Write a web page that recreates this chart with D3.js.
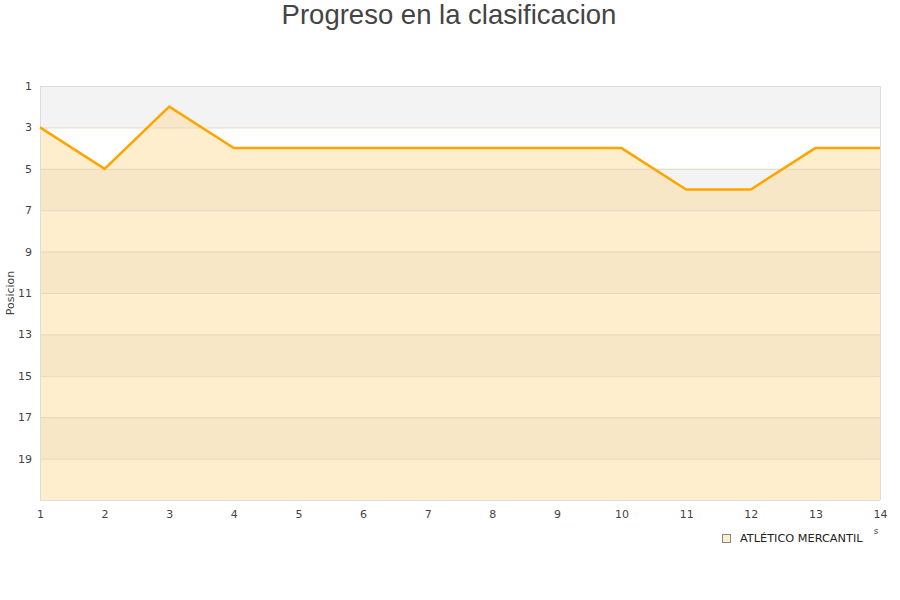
<!DOCTYPE html>
<html><head><meta charset="utf-8">
<script src="https://cdn.jsdelivr.net/npm/d3@7"></script>
<style>body{margin:0;background:#fff}svg{display:block}</style>
</head><body>
<svg id="c" width="900" height="600"></svg>
<script>
const rounds = [1,2,3,4,5,6,7,8,9,10,11,12,13,14];
const positions = [3,5,2,4,4,4,4,4,4,4,6,6,4,4];
const yTicks = [1,3,5,7,9,11,13,15,17,19];
const teamName = "ATLÉTICO MERCANTIL";
const title = "Progreso en la clasificacion";
const yLabel = "Posicion";

const svg = d3.select("#c");
const m = {l:40, r:880, t:86, b:500};
const x = d3.scaleLinear().domain([1,14]).range([m.l, m.r]);
const y = d3.scaleLinear().domain([1,21]).range([m.t, m.b]);

// bands
const bands = d3.range(1,21,2);
svg.selectAll("rect.band").data(bands).enter().append("rect")
  .attr("x", m.l).attr("width", m.r-m.l)
  .attr("y", d=>y(d)).attr("height", d=>y(d+2)-y(d))
  .attr("fill", (d,i)=> i%2===0 ? "#f3f3f3" : "#ffffff");

// area
const area = d3.area().x((d,i)=>x(rounds[i])).y0(y(21)).y1(d=>y(d));
svg.append("path").datum(positions).attr("d", area)
  .attr("fill", "#ffd78a").attr("fill-opacity", 0.42);

// grid lines
svg.selectAll("line.grid").data(bands.slice(1)).enter().append("line")
  .attr("x1", m.l).attr("x2", m.r).attr("y1", d=>y(d)+0.5).attr("y2", d=>y(d)+0.5)
  .attr("stroke", "#e4d6bf").attr("stroke-width",1);
svg.append("line").attr("x1",m.l).attr("x2",m.r).attr("y1",m.t+0.5).attr("y2",m.t+0.5).attr("stroke","#dddddd");

// border
svg.append("line").attr("x1",m.l+0.5).attr("x2",m.l+0.5).attr("y1",m.t).attr("y2",m.b).attr("stroke","#dddddd");
svg.append("line").attr("x1",m.r+0.5).attr("x2",m.r+0.5).attr("y1",m.t).attr("y2",m.b).attr("stroke","#dddddd");
svg.append("line").attr("x1",m.l).attr("x2",m.r).attr("y1",m.b+0.5).attr("y2",m.b+0.5).attr("stroke","#dddddd");

// line
const line = d3.line().x((d,i)=>x(rounds[i])).y(d=>y(d));
svg.append("path").datum(positions).attr("d", line)
  .attr("fill","none").attr("stroke","#ffa500").attr("stroke-width",2.5).attr("stroke-linejoin","miter");

// axes
const font = "DejaVu Sans, sans-serif";
const yAxis = d3.axisLeft(y).tickValues(yTicks).tickSize(0).tickPadding(8);
const gy = svg.append("g").attr("transform",`translate(${m.l},0)`).call(yAxis);
gy.select(".domain").remove();
gy.selectAll("text").attr("font-family",font).attr("font-size",11).attr("fill","#444");

const xAxis = d3.axisBottom(x).tickValues(rounds).tickFormat(d3.format("d")).tickSize(0).tickPadding(10);
const gx = svg.append("g").attr("transform",`translate(0,${m.b})`).call(xAxis);
gx.select(".domain").remove();
gx.selectAll("text").attr("font-family",font).attr("font-size",11).attr("fill","#444");

// title
svg.append("text").attr("x",449).attr("y",24).attr("text-anchor","middle")
  .attr("font-family","Liberation Sans, Arial, sans-serif").attr("font-size",27.5).attr("fill","#444").text(title);

// y label
svg.append("text").attr("transform","translate(14,293) rotate(-90)").attr("text-anchor","middle")
  .attr("font-family",font).attr("font-size",11).attr("fill","#444").text(yLabel);

// small stray label
svg.append("text").attr("x",876).attr("y",534).attr("text-anchor","middle")
  .attr("font-family",font).attr("font-size",9).attr("fill","#555").text("s");

// legend
svg.append("rect").attr("x",722.5).attr("y",534.5).attr("width",8).attr("height",8)
  .attr("fill","#ffedcc").attr("stroke","#888").attr("stroke-width",1);
svg.append("text").attr("x",740).attr("y",542).attr("font-family",font).attr("font-size",11.3).attr("fill","#222").text(teamName);
</script>
</body></html>
